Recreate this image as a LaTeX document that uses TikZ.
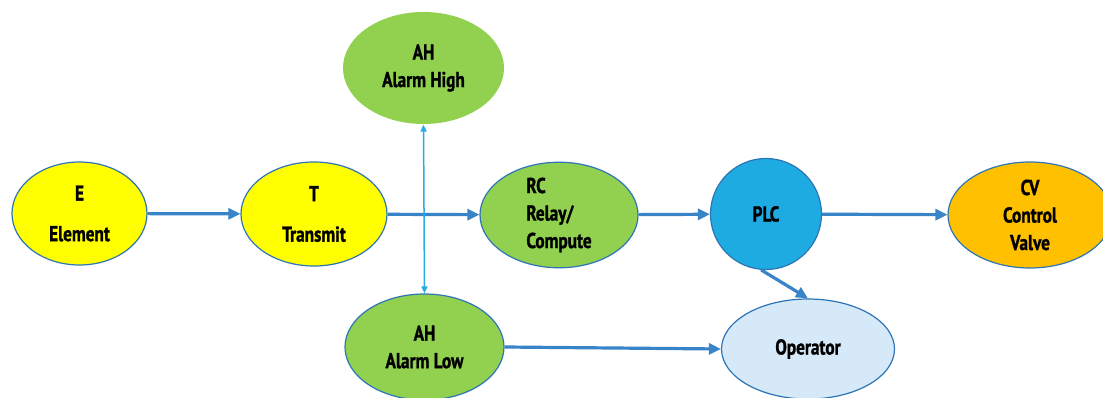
\documentclass[tikz,border=0pt]{standalone}
\usepackage{fontspec}
\setmainfont{PT Sans}[FakeStretch=0.8,FakeBold=1.2]
\usetikzlibrary{shapes.geometric,arrows.meta}
\definecolor{bord}{RGB}{46,117,182}
\definecolor{arr}{RGB}{56,132,200}
\definecolor{varr}{RGB}{41,171,226}
\definecolor{ylw}{RGB}{255,255,0}
\definecolor{grn}{RGB}{146,208,80}
\definecolor{plcb}{RGB}{29,171,226}
\definecolor{org}{RGB}{255,192,0}
\definecolor{lblue}{RGB}{214,233,248}
\tikzset{
  oval/.style={ellipse, draw=bord, line width=1.2pt, inner sep=0pt, align=center,
    font=\fontsize{21.5}{27.5}\selectfont\bfseries},
  flow/.style={draw=arr, line width=3.2pt, -{Triangle[length=12pt,width=11pt]}},
  vflow/.style={draw=varr, line width=1.5pt, {Triangle[length=7pt,width=6pt]}-{Triangle[length=7pt,width=6pt]}},
}
\begin{document}
\begin{tikzpicture}[x=1pt,y=-1pt]
\useasboundingbox (0,0) rectangle (1103,398);
\fill[white] (0,0) rectangle (1103,398);
\node[oval, fill=ylw, minimum width=135pt, minimum height=103pt] (E) at (79.5,213.5) {E\\[13pt]Element};
\node[oval, fill=ylw, minimum width=146pt, minimum height=104pt] (T) at (314,214) {T\\[13pt]Transmit};
\node[oval, draw=none, fill=grn, minimum width=161pt, minimum height=112pt] (AHH) at (423.5,68) {AH\\Alarm High};
\node[oval, fill=grn, minimum width=158pt, minimum height=105pt, align=left] (RC) at (559,215) {RC\\Relay/\\Compute};
\node[circle, draw=bord, line width=1.2pt, fill=plcb, minimum size=111pt, inner sep=0pt,
  font=\fontsize{21.5}{27.5}\selectfont\bfseries] (PLC) at (766,214) {PLC};
\node[oval, fill=org, minimum width=164pt, minimum height=106pt] (CV) at (1030,215) {CV\\Control\\Valve};
\node[oval, fill=grn, minimum width=159pt, minimum height=106pt] (AHL) at (424.5,347) {AH\\Alarm Low};
\node[oval, fill=lblue, minimum width=173pt, minimum height=100pt] (OP) at (808,349) {Operator};
\draw[flow] (E) -- (T);
\draw[flow] (T) -- (RC);
\draw[flow] (RC) -- (PLC);
\draw[flow] (PLC) -- (CV);
\draw[flow] (PLC.-95) -- (OP.north);
\draw[flow] (AHL.east) -- (OP.west);
\draw[vflow] (AHH.south) -- (AHL.north);
\end{tikzpicture}
\end{document}
